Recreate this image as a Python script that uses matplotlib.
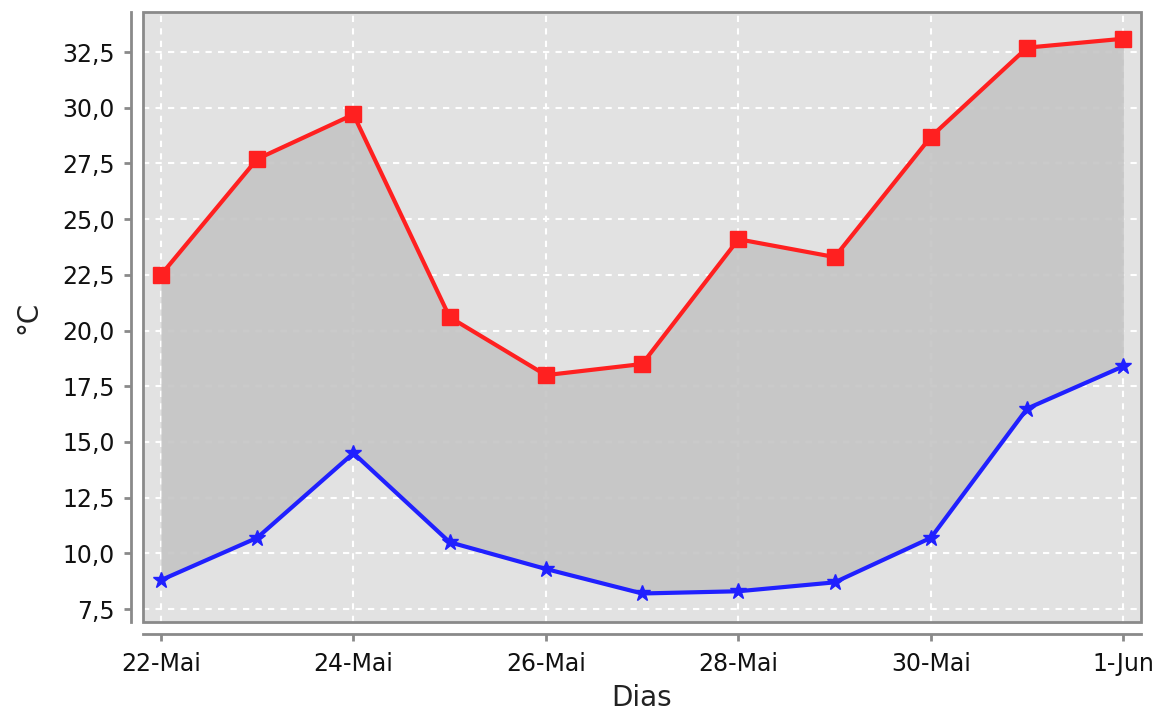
import matplotlib
matplotlib.use("Agg")
import matplotlib.pyplot as plt
from matplotlib.patches import Rectangle
from matplotlib.ticker import FuncFormatter, FixedLocator
import numpy as np

# daily temperatures, 22-Mai to 1-Jun
days = ["22-Mai", "23-Mai", "24-Mai", "25-Mai", "26-Mai", "27-Mai",
        "28-Mai", "29-Mai", "30-Mai", "31-Mai", "1-Jun"]
t_max = [22.5, 27.7, 29.7, 20.6, 18.0, 18.5, 24.1, 23.3, 28.7, 32.7, 33.1]
t_min = [8.8, 10.7, 14.5, 10.5, 9.3, 8.2, 8.3, 8.7, 10.7, 16.5, 18.4]
y_ticks = [7.5, 10.0, 12.5, 15.0, 17.5, 20.0, 22.5, 25.0, 27.5, 30.0, 32.5]

x = np.arange(len(days))

fig = plt.figure(figsize=(11.67, 7.22), dpi=100)
ax = fig.add_axes([0.1225, 0.1385, 0.855, 0.8449])
ax.set_facecolor("#e2e2e2")

ax.fill_between(x, t_min, t_max, color="#c5c5c5", alpha=0.9, lw=0, zorder=2)
ax.plot(x, t_max, color="#ff2020", lw=3, marker="s", ms=12, zorder=4)
ax.plot(x, t_min, color="#2020ff", lw=3, marker="*", ms=12, zorder=4)

ax.set_xlim(-0.187, 10.18)
ax.set_ylim(6.92, 34.3)

ax.xaxis.set_major_locator(FixedLocator(x[::2]))
ax.set_xticklabels(days[::2])
ax.yaxis.set_major_locator(FixedLocator(y_ticks))
ax.yaxis.set_major_formatter(FuncFormatter(lambda v, p: f"{v:.1f}".replace(".", ",")))

ax.grid(True, color="white", ls=(0, (3, 3)), lw=1.5, zorder=1)
ax.set_axisbelow(True)

# axis lines sit apart from the plot frame
for side in ["top", "right"]:
    ax.spines[side].set_visible(False)
for side in ["left", "bottom"]:
    ax.spines[side].set_position(("outward", 8.5))
    ax.spines[side].set_color("#8a8a8a")
    ax.spines[side].set_linewidth(2)
ax.add_patch(Rectangle((0, 0), 1, 1, transform=ax.transAxes, fill=False,
                       ec="#8a8a8a", lw=2, zorder=5, clip_on=False))

ax.tick_params(axis="both", colors="#8a8a8a", width=2, length=5,
               labelcolor="#111111", labelsize=17)
ax.tick_params(axis="y", pad=7)
ax.tick_params(axis="x", pad=8)

ax.set_xlabel("Dias", fontsize=20, color="#222222", labelpad=6)
ax.set_ylabel("°C", fontsize=20, color="#222222", labelpad=14)

fig.savefig("out.png", dpi=100)
